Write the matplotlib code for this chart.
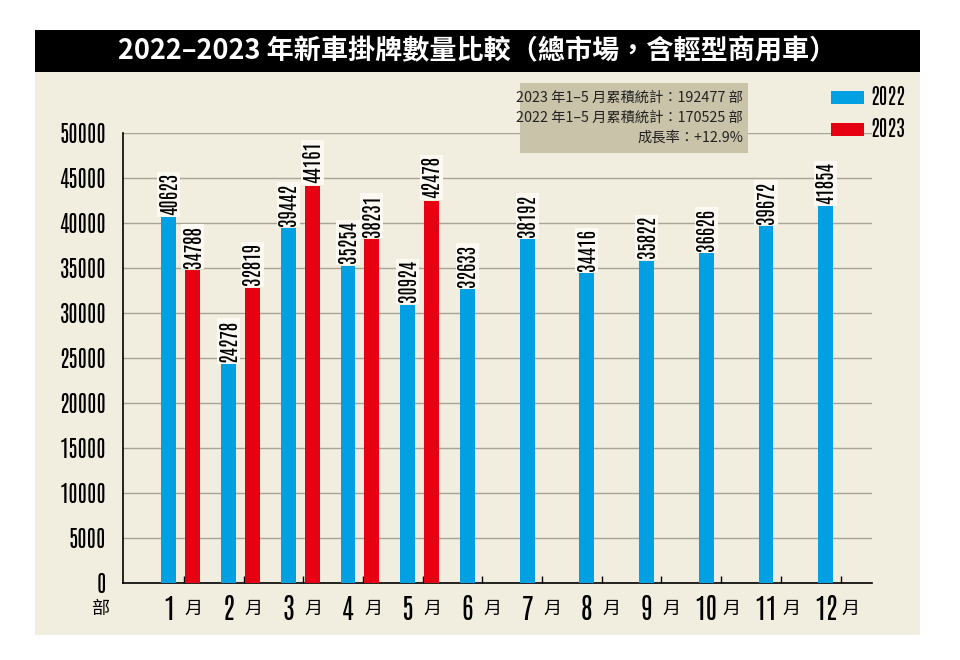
import matplotlib
matplotlib.use("Agg")
import numpy as np
from matplotlib import pyplot as plt
from matplotlib.patches import Rectangle, Patch

# data
months = [1, 2, 3, 4, 5, 6, 7, 8, 9, 10, 11, 12]
sales_2022 = [40623, 24278, 39442, 35254, 30924, 32633, 38192, 34416, 35822, 36626, 39672, 41854]
sales_2023 = [34788, 32819, 44161, 38231, 42478]
yticks = [0, 5000, 10000, 15000, 20000, 25000, 30000, 35000, 40000, 45000, 50000]
title = "2022–2023 年新車掛牌數量比較（總市場，含輕型商用車）"
info_lines = ["2023 年1–5 月累積統計：192477 部",
              "2022 年1–5 月累積統計：170525 部",
              "成長率：+12.9%"]

blue = "#00a0e2"
red = "#e60012"
beige = "#f2eedf"
narrow = ["Antonio", "DejaVu Sans"]
cjk = ["Noto Sans CJK TC", "DejaVu Sans"]

fig = plt.figure(figsize=(9.6, 6.6), dpi=100)
fig.patch.set_facecolor("white")

# background panel and title bar
fig.patches.append(Rectangle((0.0365, 0.038), 0.922, 0.853, transform=fig.transFigure,
                             facecolor=beige, edgecolor="none", zorder=-5))
fig.patches.append(Rectangle((0.0365, 0.891), 0.922, 0.064, transform=fig.transFigure,
                             facecolor="black", edgecolor="none", zorder=-5))
fig.text(0.497, 0.923, title, color="white", fontsize=19.5, fontweight="bold",
         family=cjk, ha="center", va="center")

ax = fig.add_axes([0.128, 0.1167, 0.78, 0.6818])
ax.set_facecolor("none")

x = np.arange(len(months))
off = 0.2
w = 0.25
ax.bar(x - off, sales_2022, width=w, color=blue, zorder=3)
x23 = np.arange(len(sales_2023))
ax.bar(x23 + off, sales_2023, width=w, color=red, zorder=3)

lab_box = dict(facecolor="#fbf9f2", edgecolor="none", pad=1.2)
for xi, v in zip(x - off, sales_2022):
    ax.text(xi, v + 250, str(v), rotation=90, ha="center", va="bottom",
            fontsize=14.5, family=narrow, bbox=lab_box, zorder=4)
for xi, v in zip(x23 + off, sales_2023):
    ax.text(xi, v + 250, str(v), rotation=90, ha="center", va="bottom",
            fontsize=14.5, family=narrow, bbox=lab_box, zorder=4)

ax.set_xlim(-0.97, 11.57)
ax.set_ylim(0, 50000)
ax.set_yticks(yticks)
ax.set_yticklabels([str(t) for t in yticks], family=narrow, fontsize=16)
ax.yaxis.grid(True, color="#a8a596", linewidth=1)
ax.set_axisbelow(True)
ax.tick_params(axis="y", length=0, pad=12)

ax.set_xticks(x + 0.05)
ax.set_xticklabels([])
ax.tick_params(axis="x", direction="in", length=5, width=1, color="black")

for s in ["top", "right"]:
    ax.spines[s].set_visible(False)
ax.spines["left"].set_linewidth(1.2)
ax.spines["bottom"].set_linewidth(1.2)

# month labels
tr = ax.get_xaxis_transform()
for xi, m in zip(x, months):
    ax.text(xi - off, -0.057, str(m), transform=tr, ha="center", va="center",
            fontsize=20, family=narrow, clip_on=False)
    ax.text(xi + off + 0.02, -0.057, "月", transform=tr, ha="center", va="center",
            fontsize=13, family=cjk, clip_on=False)
ax.text(-0.03, -0.058, "部", transform=ax.transAxes, ha="center", va="center",
        fontsize=13, family=cjk, clip_on=False)

# info box
fig.patches.append(Rectangle((0.5417, 0.768), 0.2375, 0.106, transform=fig.transFigure,
                             facecolor="#c9c3a9", edgecolor="none", zorder=2))
for yy, line in zip([0.852, 0.822, 0.792], info_lines):
    fig.text(0.774, yy, line, ha="right", va="center", fontsize=10.3,
             family=cjk, color="#222222", zorder=3)

# legend
handles = [Patch(facecolor=blue, label="2022"), Patch(facecolor=red, label="2023")]
leg = fig.legend(handles=handles, loc="upper right", bbox_to_anchor=(0.952, 0.882),
                 frameon=False, borderaxespad=0, handlelength=1.6, handleheight=0.6,
                 labelspacing=0.45, handletextpad=0.3, prop={"family": narrow, "size": 15})

fig.savefig("out.png", dpi=100)
